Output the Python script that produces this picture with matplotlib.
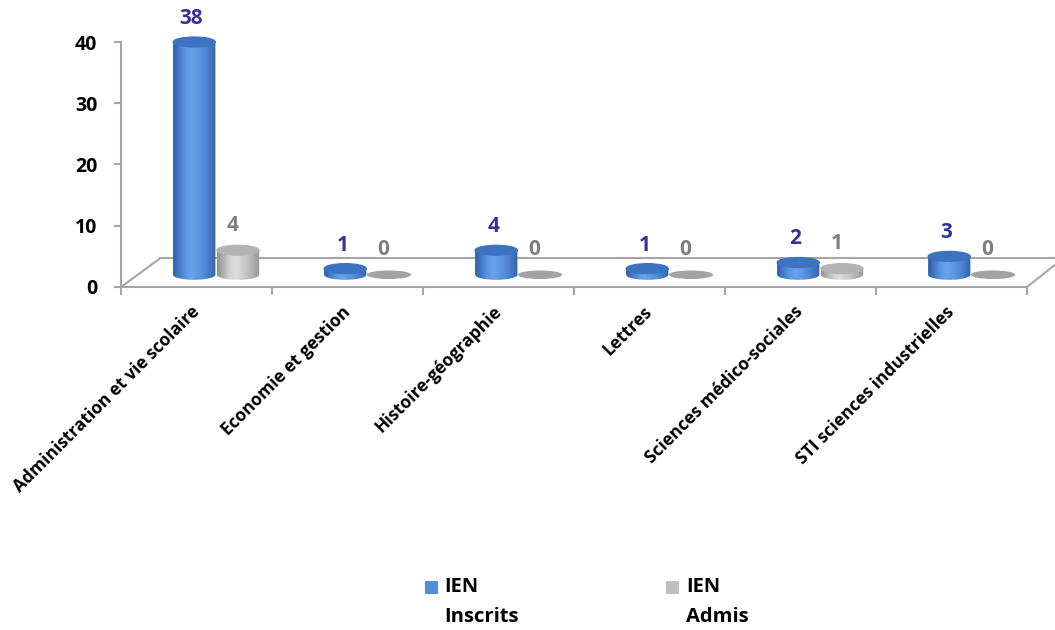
import numpy as np
import matplotlib.pyplot as plt
from matplotlib.patches import Ellipse, Rectangle, PathPatch
from matplotlib.path import Path
from matplotlib.colors import LinearSegmentedColormap

# data
categories = ["Administration et vie scolaire", "Economie et gestion",
              "Histoire-géographie", "Lettres", "Sciences médico-sociales",
              "STI sciences industrielles"]
inscrits = [38, 1, 4, 1, 2, 3]
admis = [4, 0, 0, 0, 1, 0]
yticks = [0, 10, 20, 30, 40]

plt.rcParams['font.family'] = ['Open Sans', 'Noto Sans', 'DejaVu Sans']

# fake 3D geometry (data units)
BAR_W = 0.28
ELL_H = 1.65          # height of the cylinder caps
DEPTH_DX, DEPTH_DY = 0.13, 2.0   # bars sit half way back on the floor
BACK_DX, BACK_DY = 0.26, 4.7     # back edge of the floor
GRID = "#a6a6a6"

blue_cmap = LinearSegmentedColormap.from_list(
    "blue", [(0, "#2d5ea8"), (0.3, "#5d98e4"), (0.45, "#6aa3ec"), (0.75, "#4f87d4"), (1, "#3463ad")])
grey_cmap = LinearSegmentedColormap.from_list(
    "grey", [(0, "#8f8f8f"), (0.3, "#d4d4d4"), (0.45, "#dedede"), (0.75, "#bdbdbd"), (1, "#979797")])


def cylinder(ax, xc, value, cmap, top_color, z):
    bottom = DEPTH_DY
    top = bottom + value
    eh = ELL_H / 2
    if value == 0:
        ax.add_patch(Ellipse((xc, bottom), BAR_W * 1.05, ELL_H * 0.85,
                             facecolor="#a3a3a3", edgecolor="none", zorder=z))
        return
    t = np.linspace(np.pi, 2 * np.pi, 60)
    xs = xc + BAR_W / 2 * np.cos(t)
    ys = bottom + eh * np.sin(t)
    pts = np.vstack([np.column_stack([xs, ys]),
                     [[xc + BAR_W / 2, top], [xc - BAR_W / 2, top], [xs[0], ys[0]]]])
    body = PathPatch(Path(pts), facecolor="none", edgecolor="none", transform=ax.transData)
    ax.add_patch(body)
    grad = np.linspace(0, 1, 256).reshape(1, -1)
    im = ax.imshow(grad, cmap=cmap, aspect="auto", origin="lower", zorder=z,
                   extent=[xc - BAR_W / 2, xc + BAR_W / 2, bottom - eh, top])
    im.set_clip_path(body)
    im.set_clip_box(None)
    ax.add_patch(Ellipse((xc, top), BAR_W, ELL_H, facecolor=top_color,
                         edgecolor=top_color, lw=0.8, zorder=z + 0.1, clip_on=False))


fig = plt.figure(figsize=(10.55, 6.3), dpi=100)
ax = fig.add_axes([121 / 1055, 1 - 287 / 630, 906 / 1055, 245 / 630])

n = len(categories)
centers = np.arange(n) + 0.5 + DEPTH_DX
x_ins = centers - 0.145
x_adm = centers + 0.145

# floor
ax.plot([0, BACK_DX], [0, BACK_DY], color=GRID, lw=1.5, clip_on=False, zorder=1)
ax.plot([BACK_DX, n + 0.2], [BACK_DY, BACK_DY], color=GRID, lw=1.5, clip_on=False, zorder=1)
ax.plot([n, n + 0.2], [0, 3.9], color=GRID, lw=1.5, clip_on=False, zorder=1)

for i in range(n):
    cylinder(ax, x_ins[i], inscrits[i], blue_cmap, "#3d72c0", 3 + i)
    cylinder(ax, x_adm[i], admis[i], grey_cmap, "#b3b3b3", 3.5 + i)
    ax.annotate(str(inscrits[i]), (x_ins[i], DEPTH_DY + inscrits[i]), xytext=(-2, 17),
                textcoords="offset points", ha="center", va="center",
                fontsize=15, fontweight="bold", color="#333399", annotation_clip=False)
    ax.annotate(str(admis[i]), (x_adm[i], DEPTH_DY + admis[i]), xytext=(-4, 18),
                textcoords="offset points", ha="center", va="center",
                fontsize=15, fontweight="bold", color="#7f7f7f", annotation_clip=False)

ax.set_xlim(0, n)
ax.set_ylim(0, 40)
for s in ["top", "right"]:
    ax.spines[s].set_visible(False)
for s in ["left", "bottom"]:
    ax.spines[s].set_color(GRID)
    ax.spines[s].set_linewidth(1.5)

ax.set_yticks(yticks)
ax.set_yticklabels([str(v) for v in yticks], fontsize=14, fontweight="bold")
ax.tick_params(axis="y", length=5, width=1.5, color=GRID, pad=12)

ax.set_xticks(np.arange(n + 1))
ax.set_xticklabels([])
ax.tick_params(axis="x", which="major", length=6, width=1.5, color=GRID)
ax.set_xticks(np.arange(n) + 0.5, minor=True)
ax.set_xticklabels(categories, minor=True, rotation=45, ha="right", va="center",
                   rotation_mode="anchor", fontsize=12.5, fontweight="bold")
ax.tick_params(axis="x", which="minor", length=0, pad=16)

# legend
fig.patches.append(Rectangle((425 / 1055, 1 - 594 / 630), 13 / 1055, 13 / 630,
                             transform=fig.transFigure, facecolor="#558ed5", edgecolor="none"))
fig.patches.append(Rectangle((666 / 1055, 1 - 594 / 630), 13 / 1055, 13 / 630,
                             transform=fig.transFigure, facecolor="#bfbfbf", edgecolor="none"))
for xpix, name in [(444, "IEN\nInscrits"), (686, "IEN\nAdmis")]:
    l1, l2 = name.split("\n")
    fig.text(xpix / 1055, 1 - 587 / 630, l1, fontsize=14.5, fontweight="bold", va="center")
    fig.text(xpix / 1055, 1 - 617 / 630, l2, fontsize=14.5, fontweight="bold", va="center")

fig.savefig("out.png", dpi=100)
